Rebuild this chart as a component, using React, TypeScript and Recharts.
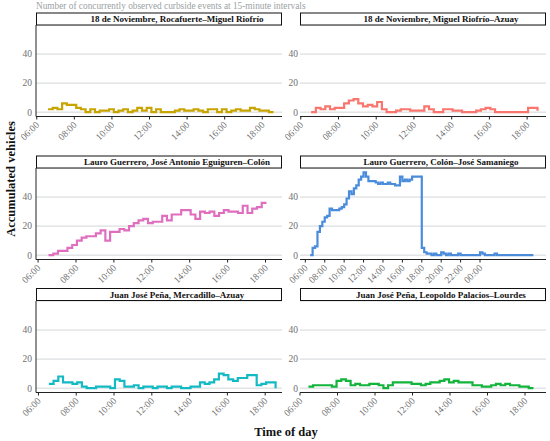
import React from 'react';
import { LineChart, Line, XAxis, YAxis, CartesianGrid } from 'recharts';

const FONT = '"Liberation Serif", "Times New Roman", serif';

// vehicles counted at 15-minute intervals, first sample hour given by *Start
const rocafuerteStart = 6.6;
const rocafuerte = [
  2, 3, 2, 6, 5, 5, 3, 2, 0, 2, 0, 1, 1, 2, 0, 1, 2, 0, 1, 3, 1, 3, 0, 2, 0,
  0, 0, 1, 2, 1, 1, 2, 1, 0, 2, 2, 0, 2, 0, 1, 2, 1, 1, 3, 2, 1, 1, 0, 0,
];

const riofrioStart = 6.55;
const riofrio = [
  0, 3, 2, 4, 2, 3, 3, 6, 8, 9, 6, 4, 5, 4, 7, 2, 0, 0, 1, 2, 2, 1, 1, 1, 4,
  2, 0, 0, 2, 2, 1, 1, 0, 0, 0, 1, 2, 3, 2, 0, 0, 0, 0, 0, 0, 0, 3, 3, 1,
];

const eguigurenStart = 6.55;
const eguiguren = [
  0, 1, 3, 3, 5, 7, 10, 12, 13, 13, 15, 17, 10, 16, 16, 18, 17, 20, 22, 24,
  25, 22, 23, 23, 27, 24, 28, 28, 31, 31, 28, 25, 30, 29, 30, 27, 29, 31, 30,
  30, 29, 34, 29, 32, 33, 36, 36,
];

const samaniegoStart = 6.5;
const samaniego = [
  0, 5, 6, 16, 20, 23, 26, 27, 32, 31, 31, 31, 32, 33, 35, 39, 44, 42, 46, 48,
  52, 54, 57, 54, 51, 51, 51, 50, 49, 50, 49, 49, 50, 49, 49, 48, 48, 54, 51,
  52, 51, 52, 54, 54, 54, 54, 5, 2, 1, 1, 0, 1, 0, 0, 2, 1, 0, 1, 0, 0, 0, 1,
  0, 0, 0, 0, 0, 0, 0, 0, 2, 1, 0, 0, 0, 0, 1, 0, 0, 0, 0, 0, 0, 0, 0, 0, 0,
  0, 0, 0, 0, 0, 0,
];

const mercadilloStart = 6.55;
const mercadillo = [
  3, 5, 8, 4, 4, 3, 4, 1, 0, 0, 1, 1, 1, 0, 6, 5, 1, 1, 2, 0, 1, 1, 0, 1, 1,
  0, 1, 1, 0, 0, 1, 1, 4, 3, 4, 6, 10, 9, 6, 5, 7, 7, 9, 9, 2, 3, 4, 4, 0,
];

const lourdesStart = 6.45;
const lourdes = [
  1, 2, 2, 2, 2, 1, 5, 6, 5, 2, 3, 2, 2, 3, 3, 2, 0, 2, 4, 4, 4, 4, 3, 3, 2,
  3, 4, 4, 5, 6, 4, 5, 4, 4, 4, 2, 2, 1, 1, 2, 3, 2, 3, 2, 2, 1, 1, 0, 0,
];

const dayTicks = [6, 8, 10, 12, 14, 16, 18];
const longTicks = [6, 8, 10, 12, 14, 16, 18, 20, 22, 24];
const yTicks = [0, 20, 40];

const toRows = (start: number, values: number[]) =>
  values.map((v, i) => ({ t: start + i * 0.25, v }));

const fmtTime = (h: number) => String(h % 24).padStart(2, '0') + ':00';

const panels = [
  { name: '18 de Noviembre, Rocafuerte–Miguel Riofrío', color: '#C8A400', data: toRows(rocafuerteStart, rocafuerte), domain: [5.96, 19.05], ticks: dayTicks, col: 0, row: 0 },
  { name: '18 de Noviembre, Miguel Riofrío–Azuay', color: '#F8766D', data: toRows(riofrioStart, riofrio), domain: [5.96, 19.0], ticks: dayTicks, col: 1, row: 0 },
  { name: 'Lauro Guerrero, José Antonio Eguiguren–Colón', color: '#E06EBE', data: toRows(eguigurenStart, eguiguren), domain: [5.89, 18.87], ticks: dayTicks, col: 0, row: 1 },
  { name: 'Lauro Guerrero, Colón–José Samaniego', color: '#4A8CDB', data: toRows(samaniegoStart, samaniego), domain: [5.45, 30.8], ticks: longTicks, col: 1, row: 1 },
  { name: 'Juan José Peña, Mercadillo–Azuay', color: '#14BAC3', data: toRows(mercadilloStart, mercadillo), domain: [5.87, 18.89], ticks: dayTicks, col: 0, row: 2 },
  { name: 'Juan José Peña, Leopoldo Palacios–Lourdes', color: '#12B43C', data: toRows(lourdesStart, lourdes), domain: [6.0, 19.12], ticks: dayTicks, col: 1, row: 2 },
];

const rowTop = [25, 168, 300.5];
const plotH = 91.5;
const plotW = 246;
const plotLeft = [36, 300];
const chartLeft = [0, 260];
const chartW = 290;
const topPad = 5;
const xAxisH = 32;

const TimeTick = (props: any) => {
  const { x, y, payload } = props;
  const ax = x + 3;
  const ay = y + 4;
  return (
    <text
      x={ax}
      y={ay}
      textAnchor="end"
      fontSize={9.5}
      fontFamily={FONT}
      fill="#707070"
      transform={`rotate(-45 ${ax} ${ay})`}
    >
      {fmtTime(payload.value)}
    </text>
  );
};

const Panel = ({ p }: { p: (typeof panels)[number] }) => {
  const left = plotLeft[p.col] - chartLeft[p.col] - 30;
  const right = chartW - (plotLeft[p.col] - chartLeft[p.col]) - plotW;
  return (
    <div style={{ position: 'absolute', left: chartLeft[p.col], top: rowTop[p.row] - topPad }}>
      <LineChart
        width={chartW}
        height={topPad + plotH + xAxisH}
        data={p.data}
        margin={{ top: topPad, right, bottom: 0, left }}
      >
        <CartesianGrid vertical={false} stroke="#d3d6d9" strokeWidth={1} />
        <XAxis
          type="number"
          dataKey="t"
          domain={p.domain}
          ticks={p.ticks}
          interval={0}
          allowDataOverflow
          height={xAxisH}
          stroke="#222"
          tickSize={3}
          tick={<TimeTick />}
        />
        <YAxis
          type="number"
          domain={[-3, 60]}
          ticks={yTicks}
          allowDataOverflow
          width={30}
          tickLine={false}
          tickSize={0}
          tickMargin={p.col === 0 ? 4 : 2}
          axisLine={p.col === 0 ? { stroke: '#222' } : false}
          tick={{ fill: '#6f6f6f', fontSize: 9.5, fontFamily: FONT }}
        />
        <Line
          type="stepAfter"
          dataKey="v"
          stroke={p.color}
          strokeWidth={2.2}
          dot={false}
          isAnimationActive={false}
        />
      </LineChart>
    </div>
  );
};

export default function App() {
  return (
    <div style={{ position: 'absolute', left: 0, top: 0, width: 550, height: 441, background: '#fff', overflow: 'hidden' }}>
      {panels.map((p) => (
        <Panel key={p.name} p={p} />
      ))}
      <svg width={550} height={441} style={{ position: 'absolute', left: 0, top: 0, pointerEvents: 'none' }}>
        <text x={36} y={9} fontSize={9.3} fontFamily={FONT} fill="#9aa2a4">
          Number of concurrently observed curbside events at 15-minute intervals
        </text>
        {panels.map((p) => (
          <g key={p.name}>
            <rect
              x={plotLeft[p.col] + 0.5}
              y={rowTop[p.row] - 12}
              width={plotW - 1}
              height={12}
              fill="#fff"
              stroke="#111"
              strokeWidth={1}
            />
            <text
              x={plotLeft[p.col] + plotW / 2 + 18}
              y={rowTop[p.row] - 3}
              textAnchor="middle"
              fontSize={9}
              fontWeight="bold"
              fontFamily={FONT}
              fill="#111"
            >
              {p.name}
            </text>
          </g>
        ))}
        <text
          x={15}
          y={179}
          transform="rotate(-90 15 179)"
          textAnchor="middle"
          fontSize={12.5}
          fontWeight="bold"
          fontFamily={FONT}
          fill="#111"
        >
          Accumulated vehicles
        </text>
        <text x={286} y={436} textAnchor="middle" fontSize={12.5} fontWeight="bold" fontFamily={FONT} fill="#111">
          Time of day
        </text>
      </svg>
    </div>
  );
}
